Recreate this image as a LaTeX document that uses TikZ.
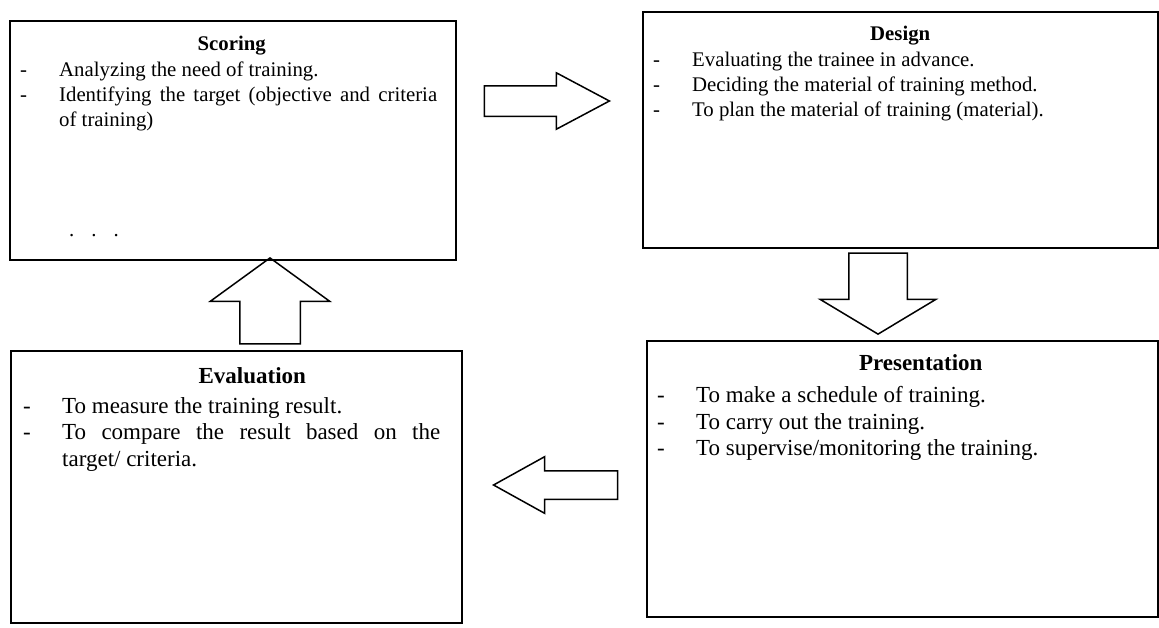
\documentclass[tikz,border=0pt]{standalone}
\usepackage{fontspec}
\setmainfont{Liberation Serif}
\usetikzlibrary{calc}
\usetikzlibrary{shapes.arrows}

\newlength{\dashgap}
\setlength{\dashgap}{39pt}
\newcommand{\dashitem}[1]{\noindent\leftskip=\dashgap\llap{\makebox[\dashgap][l]{-}}#1\par}

\tikzset{
    stage/.style={draw, line width=1.5pt, rectangle, inner sep=0pt, anchor=north west},
    headtop/.style={font=\fontsize{20.8}{25}\selectfont\bfseries, inner sep=0pt, anchor=base},
    headlow/.style={font=\fontsize{23}{26.5}\selectfont\bfseries, inner sep=0pt, anchor=base},
    listtop/.style={font=\fontsize{20.8}{25}\selectfont, align=justify, inner sep=0pt, anchor=north west},
    listlow/.style={font=\fontsize{23}{26.5}\selectfont, align=justify, inner sep=0pt, anchor=north west},
    flow/.style={single arrow, draw, line width=1.5pt, anchor=tip}
}

\begin{document}
\begin{tikzpicture}[x=1pt, y=-1pt]
    \path[use as bounding box, fill=white] (0,0) rectangle (1159,627);

    % the four stages
    \node[stage, minimum width=446pt, minimum height=239pt] (scoring) at (9,20) {};
    \node[stage, minimum width=515pt, minimum height=236pt] (design) at (642,11) {};
    \node[stage, minimum width=511pt, minimum height=276pt] (presentation) at (646,340) {};
    \node[stage, minimum width=451pt, minimum height=272pt] (evaluation) at (10,350) {};

    \node[headtop] (scoringhead) at ($(scoring.north)+(-1,30)$) {Scoring};
    \node[listtop, text width=417pt] (scoringlist) at ($(scoring.north west)+(11,41.8)$) {%
        \dashitem{Analyzing the need of training.}%
        \dashitem{Identifying the target (objective and criteria\linebreak of training)}};
    \node[headtop, inner sep=0pt] (scoringdots) at ($(scoring.south west)+(85,-24)$) {\mdseries.\hspace{17pt}.\hspace{17pt}.};

    \node[headtop] (designhead) at ($(design.north)+(0,29)$) {Design};
    \node[listtop, text width=480pt] (designlist) at ($(design.north west)+(11,40.8)$) {%
        \dashitem{Evaluating the trainee in advance.}%
        \dashitem{Deciding the material of training method.}%
        \dashitem{To plan the material of training (material).}};

    \node[headlow] (presentationhead) at ($(presentation.north)+(18.5,30)$) {Presentation};
    \node[listlow, text width=480pt] (presentationlist) at ($(presentation.north west)+(11,46.3)$) {%
        \dashitem{To make a schedule of training.}%
        \dashitem{To carry out the training.}%
        \dashitem{To supervise/monitoring the training.}};

    \node[headlow] (evaluationhead) at ($(evaluation.north)+(16,33)$) {Evaluation};
    \node[listlow, text width=417pt] (evaluationlist) at ($(evaluation.north west)+(13,47)$) {%
        \dashitem{To measure the training result.}%
        \dashitem{To compare the result based on the\linebreak target/ criteria.}};

    % block arrows of the cycle
    \node[flow, minimum height=125pt, inner xsep=0pt, inner ysep=14.5pt, single arrow head extend=13pt, single arrow tip angle=56] (todesign) at (611,101) {};
    \node[flow, shape border rotate=270, minimum height=81pt, inner xsep=28.5pt, inner ysep=0pt, single arrow head extend=28.5pt, single arrow tip angle=118] (topresentation) at (878,335) {};
    \node[flow, shape border rotate=180, minimum height=124pt, inner xsep=0pt, inner ysep=13.5pt, single arrow head extend=14pt, single arrow tip angle=58] (toevaluation) at (492,485) {};
    \node[flow, shape border rotate=90, minimum height=86pt, inner xsep=29.5pt, inner ysep=0pt, single arrow head extend=29.5pt, single arrow tip angle=108] (toscoring) at (270,257) {};
\end{tikzpicture}
\end{document}
